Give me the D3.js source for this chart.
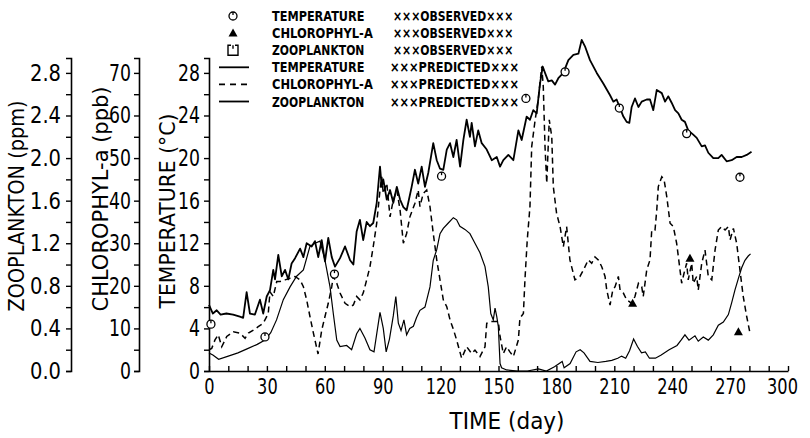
<!DOCTYPE html>
<html>
<head>
<meta charset="utf-8">
<script src="https://cdn.jsdelivr.net/npm/d3@7"></script>
<style>
  body { margin: 0; background: #fff; }
  svg { display: block; }
</style>
</head>
<body>
<div id="chart"></div>
<script>

// Données : [jour, valeur]

// Température prédite (°C)
const tempPred = [[0,6.2],[2,5.4],[4,5.7],[6,5.3],[9,5.4],[12.5,5.3],[16,5.1],[17.7,5.0],[19.5,7.4],[21.2,5.4],[23.8,5.3],[26.4,6.7],[28.1,5.4],[29.9,7.0],[31.6,7.6],[33.3,9.5],[34.2,8.6],[35.9,10.9],[37.7,8.9],[39.4,9.5],[41.1,8.6],[42.8,10.1],[44.6,10.6],[47.2,11.5],[48.9,10.7],[50.6,12.0],[53.2,11.7],[54.9,12.2],[56.6,10.7],[58.4,12.3],[60.1,10.3],[61.8,12.5],[63.6,10.7],[65.3,9.8],[67.9,10.6],[70.5,11.7],[73.1,10.4],[74.8,10.0],[76.5,13.1],[78.2,14.2],[79.9,12.3],[81.7,14.0],[83.4,13.6],[85.1,13.9],[86.9,15.8],[88.6,19.2],[89.5,17.3],[90.3,18.0],[92.1,16.1],[93.8,17.0],[95.5,15.8],[97.3,17.3],[99,16.1],[100.7,15.4],[102.4,15.1],[105,17.3],[106.7,18.9],[108.4,17.6],[110.2,19.2],[111.9,17.3],[113.6,18.6],[116.2,21.4],[118,19.8],[119.7,19.0],[121.4,18.9],[123.2,20.8],[124.9,21.4],[126.6,20.1],[128.3,21.7],[130.1,19.2],[131.8,21.7],[133.5,23.6],[135.2,22.0],[136.1,23.3],[137.8,21.1],[139.5,22.6],[141.3,21.4],[143.9,20.8],[146.5,19.8],[149.1,20.1],[150.8,19.2],[152.5,19.8],[155.1,20.3],[157.7,19.8],[160.3,22.6],[162,21.7],[164.6,23.9],[166.3,23.6],[168,24.5],[169.8,24.2],[171.5,27.0],[172.9,28.6],[174.1,28.0],[175.8,27.2],[177.6,27.3],[179.3,26.9],[181,27.5],[183.6,28.0],[186.2,29.2],[188.8,29.7],[191.4,29.8],[193.1,31.1],[194.8,30.5],[197.4,29.2],[200.9,28.0],[204.3,27.0],[207.8,25.9],[209.5,25.3],[211.2,25.5],[213,24.7],[214.7,23.9],[216.4,23.4],[217.8,23.3],[219,24.8],[220.7,25.6],[222.5,24.8],[224.2,25.3],[226.8,25.5],[228.5,25.5],[230.2,24.5],[232,26.4],[234.6,26.1],[236.3,25.3],[238,25.8],[239.7,25.2],[241.5,24.5],[243.2,24.2],[244.9,23.6],[246.6,23.4],[248.3,22.6],[250.9,22.2],[252.7,21.9],[255.3,21.1],[257,21.2],[258.7,20.5],[261.3,20.0],[263.9,20.0],[265.6,20.3],[268.2,19.7],[270.8,19.8],[273.4,20.1],[276,20.1],[278.6,20.3],[281.1,20.6]];

// Chlorophylle-a prédite (ppb)
const chloPred = [[0,5.0],[1.4,5.3],[3.1,7.3],[4.8,8.5],[6.6,5.7],[9.2,8.1],[12.6,9.2],[16,8.9],[18.7,7.7],[20.4,8.9],[23,9.6],[25.5,10.4],[28.1,11.2],[30.7,13.5],[31.6,18.6],[33.3,17.5],[35.1,21],[36.8,21],[39.4,21.4],[42,21.8],[44.6,22.2],[47.2,21.4],[48.9,19.8],[50.6,16.7],[52.3,12.8],[54.1,8.9],[56.5,4.0],[58.4,9.6],[60.1,12.8],[61.8,15.9],[63.6,19.8],[64.4,22.2],[66.2,20.6],[67.9,18.3],[70.5,15.9],[73.1,15.1],[74.8,15.5],[76.5,17.5],[78.2,16.7],[79.9,18.3],[81.7,21.4],[83.4,24.5],[85.1,29.2],[86.9,34.7],[88.6,42.5],[89.5,45.6],[90.3,41.7],[92.1,44.1],[93.8,36.2],[95.5,40.2],[97.3,42.5],[99,37.8],[100.7,30],[102.4,32.3],[104.1,36.2],[106.7,39.4],[108.4,42.5],[109.3,38.6],[111,41.7],[112.8,42.5],[114.5,38.6],[116.2,32.3],[118,26.1],[119.7,21.4],[121.4,16.7],[123.2,15.1],[124.9,12.0],[126.6,9.8],[128.3,7.3],[130.9,3.0],[133.5,5.7],[136.1,4.1],[137.8,4.9],[140.4,3.4],[143,5.7],[143.9,11.2],[145.6,11.6],[148.2,11.6],[149.9,11.6],[150.8,8.1],[152.5,4.1],[154.2,5.7],[155.9,4.5],[157.7,3.4],[160.3,7.3],[161.1,12.4],[162.9,13.5],[163.7,21.4],[164.9,30.8],[166.3,38.6],[167.2,52.7],[169,59],[170.6,63.7],[172.4,71.5],[173.2,66.8],[174.1,52.7],[175,44.1],[176.3,59],[177.6,55],[178.4,43.3],[180.1,37],[181.9,33.9],[183.6,29.2],[185.3,33.9],[187,26.1],[189.6,21.4],[192.2,22.2],[194,23.7],[196.5,26.1],[198.3,25.3],[200,26.8],[201.7,26.1],[203.5,24.5],[205.2,22.2],[206.1,19.0],[207.8,15.5],[209.2,19.0],[210.4,19.8],[212.1,22.2],[213,19.0],[214.7,18.3],[216.4,16.7],[219,15.9],[220.7,17.5],[222.5,20.6],[224.2,19.8],[225,17.5],[226.8,23.7],[228.5,26.1],[229.4,33.1],[231.1,33.1],[232,37.8],[232.8,43.3],[234.6,45.6],[235.8,44.9],[237.2,40.9],[238.9,34.7],[240.6,33.9],[242.3,30],[243.2,26.8],[244.9,20.6],[246.1,22.9],[247.5,25.3],[248.3,21.4],[250.1,25.3],[250.9,20.6],[252.7,22.2],[253.5,19.0],[255.3,25.3],[257,28.4],[258.7,22.2],[260.5,21.4],[262.2,28.4],[263.9,33.1],[265.6,33.9],[267.4,33.1],[269.1,33.9],[270,30.8],[271.7,33.5],[273.4,30],[275.1,23.7],[276.8,17.5],[278.6,12.8],[280.3,8.9]];

// Zooplancton prédit (ppm)
const zooPred = [[0,0.17],[2,0.15],[5,0.11],[10,0.14],[15,0.17],[20,0.21],[25,0.25],[29,0.29],[32,0.36],[35,0.48],[38.5,0.67],[42,0.79],[45.4,0.89],[48.9,0.95],[52.3,1.17],[54.9,1.2],[57.5,1.22],[60.1,1.04],[62.7,0.79],[64.4,0.54],[66.2,0.29],[67.9,0.23],[71.3,0.24],[73.9,0.2],[76.5,0.35],[78.2,0.4],[80.8,0.31],[83.4,0.2],[85.5,0.18],[87,0.36],[88.6,0.55],[90.3,0.4],[91.8,0.18],[93.5,0.3],[95.5,0.52],[96.8,0.7],[98.1,0.45],[99.5,0.38],[101,0.48],[102.4,0.34],[104,0.4],[105.9,0.42],[107.5,0.5],[109.3,0.57],[111.9,0.6],[114.5,0.79],[116.2,1.04],[118,1.14],[119.7,1.29],[121.4,1.34],[124,1.39],[126.6,1.44],[128.3,1.42],[130,1.36],[132.6,1.33],[135.2,1.29],[137.8,1.2],[140.4,1.11],[143,0.98],[144.7,0.79],[146,0.54],[147.3,0.48],[148.2,0.59],[149.1,0.51],[149.9,0.42],[150.8,0.07],[151.6,0.03],[154.2,0.01],[160,0.0],[165,0.0],[170.7,0.02],[174.8,0.0],[179,0.04],[183,0.09],[184,0.03],[187.1,0.07],[190.2,0.18],[192.3,0.2],[194.3,0.17],[197.4,0.09],[201.5,0.08],[205.6,0.09],[208.7,0.1],[211.8,0.12],[213.8,0.14],[215.9,0.12],[217.9,0.19],[220,0.3],[222,0.23],[224.1,0.17],[226.1,0.18],[228.2,0.12],[231.3,0.12],[234.3,0.15],[238.4,0.2],[242.5,0.24],[244.6,0.29],[246.6,0.34],[248.7,0.29],[251.8,0.33],[253.5,0.28],[256.1,0.32],[258.7,0.29],[261.3,0.34],[263.9,0.43],[266.5,0.46],[269.1,0.53],[270.8,0.64],[272.5,0.76],[274.3,0.87],[276,0.97],[277.7,1.04],[279.4,1.08],[280.6,1.1]];

// Observations
const tempObs = [[1,4.4],[29,3.2],[65,9.1],[120.5,18.3],[164.2,25.6],[184.5,28.1],[212.6,24.7],[247.5,22.3],[275.1,18.2]];
const chloObs = [[219.5,15.9],[249.2,26.5],[274.3,9.2]];

// Graduations
const xTicks = d3.range(0, 301, 10);
const tempTicks = d3.range(0, 29, 2);
const chloTicks = d3.range(0, 71, 5);
const zooTicks = d3.range(0, 15).map(i => i / 5);

// Légende
const legendRows = [
    { label: "TEMPERATURE", kind: "×××OBSERVED×××", mark: "circle" },
    { label: "CHLOROPHYL-A", kind: "×××OBSERVED×××", mark: "triangle" },
    { label: "ZOOPLANKTON", kind: "×××OBSERVED×××", mark: "square" },
    { label: "TEMPERATURE", kind: "×××PREDICTED×××", mark: "solid" },
    { label: "CHLOROPHYL-A", kind: "×××PREDICTED×××", mark: "dashed" },
    { label: "ZOOPLANKTON", kind: "×××PREDICTED×××", mark: "solid" }
];

//---------------------------------------------------------------------------------------

const width = 810;
const height = 438;
const xLeft = 209, xRight = 788;
const yBase = 371, yTop = 58;
const font = "'DejaVu Sans', sans-serif";

const svg = d3.select("#chart")
    .append("svg")
    .attr("width", width)
    .attr("height", height);

// échelles
const scaleX = d3.scaleLinear().domain([0, 300]).range([xLeft, xRight]);
const scaleT = d3.scaleLinear().domain([0, 29.4]).range([yBase, yTop]);
const scaleC = d3.scaleLinear().domain([0, 73.5]).range([yBase, yTop]);
const scaleZ = d3.scaleLinear().domain([0, 2.94]).range([yBase, yTop]);

// largeur des étiquettes : chiffres étroits comme sur le traceur
const labelWidth = (t, w) => t.replace(/[^0-9]/g, "").length * w + t.replace(/[0-9]/g, "").length * 9;

function styleAxis(g, size, w) {
    g.attr("font-family", font).attr("font-size", size);
    g.select(".domain").attr("stroke", "#000").attr("stroke-width", 1.6);
    g.selectAll(".tick line").attr("stroke", "#000").attr("stroke-width", 1.4);
    g.selectAll(".tick text")
        .attr("fill", "#000")
        .attr("lengthAdjust", "spacingAndGlyphs")
        .attr("textLength", function () {
            const t = this.textContent;
            return t ? labelWidth(t, w) : null;
        });
}

//---------------------------------------------------------------------------------------

// Axes Y (trois axes à gauche)
function drawYAxis(scale, xPos, ticks, isMajor, fmt, pad) {
    svg.append("g")
        .attr("transform", `translate(${xPos},0)`)
        .call(d3.axisLeft(scale)
            .tickValues(ticks)
            .tickSize(5)
            .tickSizeOuter(5)
            .tickPadding(pad)
            .tickFormat(d => isMajor(d) ? fmt(d) : ""))
        .call(g => styleAxis(g, 23, 11));
}

drawYAxis(scaleZ, 71, zooTicks, d => Math.round(d * 5) % 2 === 0, d3.format(".1f"), 5);
drawYAxis(scaleC, 139, chloTicks, d => d % 10 === 0, d => d, 3);
drawYAxis(scaleT, xLeft, tempTicks, d => d % 4 === 0, d => d, 4);

// Axe X
const gx = svg.append("g")
    .attr("transform", `translate(0,${yBase})`)
    .call(d3.axisBottom(scaleX)
        .tickValues(xTicks)
        .tickSize(-5)
        .tickSizeOuter(0)
        .tickPadding(8)
        .tickFormat(d => d % 30 === 0 ? d : ""))
    .call(g => styleAxis(g, 21, 10.3));

// la dernière étiquette reste dans le cadre
gx.selectAll(".tick text")
    .filter(d => d === 300)
    .attr("dx", -6);

// Titres des axes
const titles = [
    { text: "ZOOPLANKTON (ppm)", x: 16, y: 206, len: 211 },
    { text: "CHLOROPHYL-a (ppb)", x: 100, y: 199, len: 225 },
    { text: "TEMPERATURE (°C)", x: 167, y: 211, len: 195 }
];
svg.selectAll(".ytitle")
    .data(titles)
    .join("text")
    .attr("class", "ytitle")
    .attr("transform", d => `translate(${d.x},${d.y}) rotate(-90)`)
    .attr("text-anchor", "middle")
    .attr("dy", "0.36em")
    .attr("font-family", font)
    .attr("font-size", 22)
    .attr("textLength", d => d.len)
    .attr("lengthAdjust", "spacingAndGlyphs")
    .text(d => d.text);

svg.append("text")
    .attr("x", 507)
    .attr("y", 429)
    .attr("text-anchor", "middle")
    .attr("font-family", font)
    .attr("font-size", 23)
    .attr("textLength", 115)
    .attr("lengthAdjust", "spacingAndGlyphs")
    .text("TIME (day)");

//---------------------------------------------------------------------------------------

// Courbes prédites
const lineT = d3.line().x(d => scaleX(d[0])).y(d => scaleT(d[1]));
const lineC = d3.line().x(d => scaleX(d[0])).y(d => scaleC(d[1]));
const lineZ = d3.line().x(d => scaleX(d[0])).y(d => scaleZ(d[1]));

svg.append("path")
    .attr("d", lineZ(zooPred))
    .attr("fill", "none")
    .attr("stroke", "#000")
    .attr("stroke-width", 1.2);

svg.append("path")
    .attr("d", lineC(chloPred))
    .attr("fill", "none")
    .attr("stroke", "#000")
    .attr("stroke-width", 1.5)
    .attr("stroke-dasharray", "6,4");

svg.append("path")
    .attr("d", lineT(tempPred))
    .attr("fill", "none")
    .attr("stroke", "#000")
    .attr("stroke-width", 1.8)
    .attr("stroke-linejoin", "round");

// Symboles observés
function circleMark(g) {
    g.append("circle").attr("r", 4).attr("fill", "#fff").attr("stroke", "#000").attr("stroke-width", 1.3);
    g.append("line").attr("x1", 0).attr("y1", -4).attr("x2", 0).attr("y2", -1).attr("stroke", "#000").attr("stroke-width", 1.3);
}
function triangleMark(g) {
    g.append("path").attr("d", "M0,-4.5L4.5,3.5L-4.5,3.5Z").attr("fill", "#000");
}
function squareMark(g) {
    g.append("path").attr("d", "M-2,-5H-5V5H5V-5H2").attr("fill", "none").attr("stroke", "#000").attr("stroke-width", 1.4);
    g.append("line").attr("x1", 0).attr("y1", -5).attr("x2", 0).attr("y2", -1.5).attr("stroke", "#000").attr("stroke-width", 1.4);
}

svg.selectAll(".tobs")
    .data(tempObs)
    .join("g")
    .attr("class", "tobs")
    .attr("transform", d => `translate(${scaleX(d[0])},${scaleT(d[1])})`)
    .each(function () { circleMark(d3.select(this)); });

svg.selectAll(".cobs")
    .data(chloObs)
    .join("g")
    .attr("class", "cobs")
    .attr("transform", d => `translate(${scaleX(d[0])},${scaleC(d[1])})`)
    .each(function () { triangleMark(d3.select(this)); });

//---------------------------------------------------------------------------------------

// Légende
const legend = svg.selectAll(".legend")
    .data(legendRows)
    .join("g")
    .attr("class", "legend")
    .attr("transform", (d, i) => `translate(0,${16 + i * 17.1})`);

legend.each(function (d) {
    const g = d3.select(this);
    if (d.mark === "circle" || d.mark === "triangle" || d.mark === "square") {
        const m = g.append("g").attr("transform", "translate(233,0)");
        if (d.mark === "circle") circleMark(m);
        if (d.mark === "triangle") triangleMark(m);
        if (d.mark === "square") squareMark(m);
    } else {
        g.append("line")
            .attr("x1", 219).attr("x2", 249)
            .attr("stroke", "#000")
            .attr("stroke-width", d.mark === "dashed" ? 1.6 : 1.8)
            .attr("stroke-dasharray", d.mark === "dashed" ? "6,5" : null);
    }
});

legend.append("text")
    .attr("x", 272)
    .attr("dy", "0.36em")
    .attr("font-family", font)
    .attr("font-size", 14)
    .attr("font-weight", "bold")
    .attr("textLength", d => d.label.length * 8.4)
    .attr("lengthAdjust", "spacingAndGlyphs")
    .text(d => d.label);

legend.append("text")
    .attr("x", d => d.kind.length === 14 ? 393 : 390)
    .attr("dy", "0.36em")
    .attr("font-family", font)
    .attr("font-size", 14)
    .attr("font-weight", "bold")
    .attr("textLength", d => d.kind.length * 8.6)
    .attr("lengthAdjust", "spacingAndGlyphs")
    .text(d => d.kind);

</script>
</body>
</html>
